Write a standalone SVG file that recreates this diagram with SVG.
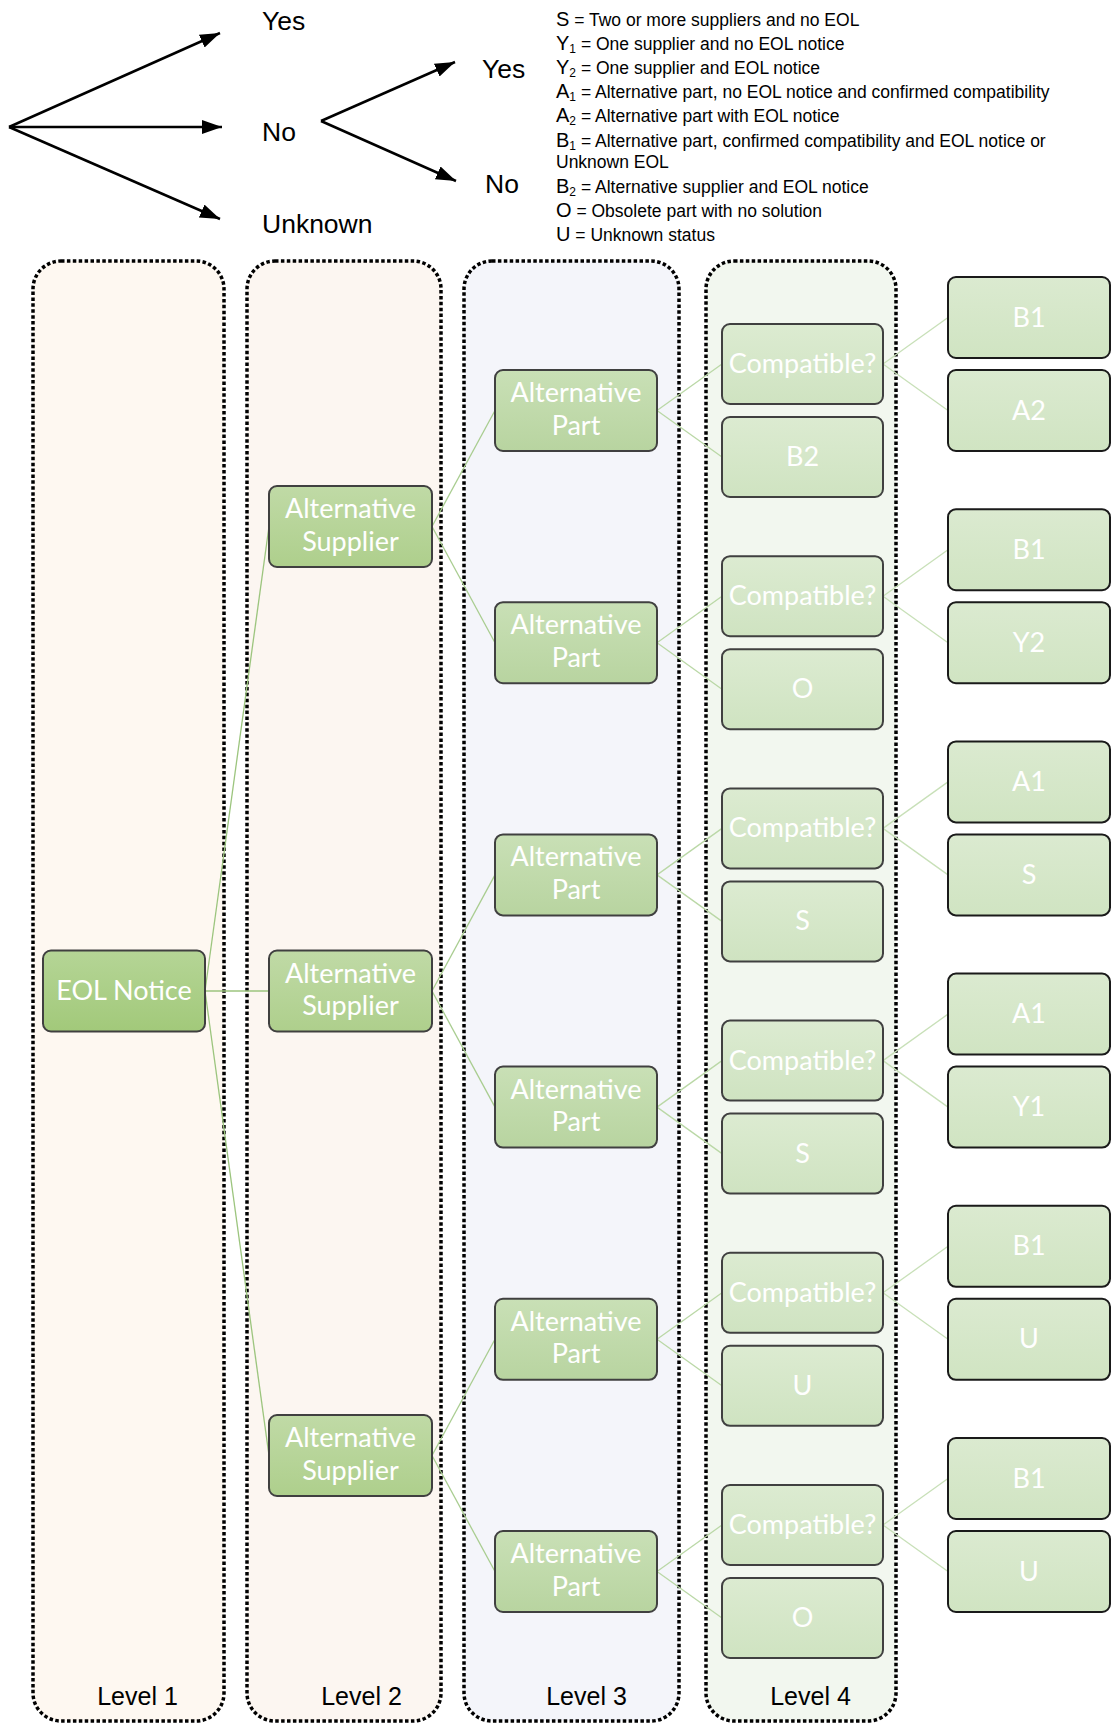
<svg xmlns="http://www.w3.org/2000/svg" width="1112" height="1724" viewBox="0 0 1112 1724">
  <defs>
    <linearGradient id="gEol" x1="0" y1="0" x2="0" y2="1">
      <stop offset="0" stop-color="#b5d596"/>
      <stop offset="1" stop-color="#a2c97a"/>
    </linearGradient>
    <linearGradient id="gSup" x1="0" y1="0" x2="0" y2="1">
      <stop offset="0" stop-color="#c0daa6"/>
      <stop offset="1" stop-color="#aecf8c"/>
    </linearGradient>
    <linearGradient id="gPart" x1="0" y1="0" x2="0" y2="1">
      <stop offset="0" stop-color="#c9e0b6"/>
      <stop offset="1" stop-color="#b8d4a0"/>
    </linearGradient>
    <linearGradient id="gL4" x1="0" y1="0" x2="0" y2="1">
      <stop offset="0" stop-color="#dcebd1"/>
      <stop offset="1" stop-color="#cfe3c1"/>
    </linearGradient>
    <linearGradient id="gL5" x1="0" y1="0" x2="0" y2="1">
      <stop offset="0" stop-color="#dbead0"/>
      <stop offset="1" stop-color="#d0e4c2"/>
    </linearGradient>
    <marker id="arrow" markerUnits="userSpaceOnUse" markerWidth="22" markerHeight="16" refX="20" refY="7" orient="auto">
      <path d="M0,0 L20,7 L0,14 z" fill="#000"/>
    </marker>
  </defs>
  <style>
    .lane { stroke: #000; stroke-width: 3.5; stroke-dasharray: 3.5 2.4; }
    .lane-label { font-family: "Liberation Sans", Arial, sans-serif; font-size: 25px; fill: #000; text-anchor: middle; }
    .fork { stroke: #000; stroke-width: 2.5; fill: none; marker-end: url(#arrow); }
    .fork-label { font-family: "Liberation Sans", Arial, sans-serif; font-size: 26.5px; fill: #000; }
    .key { font-family: "Liberation Sans", Arial, sans-serif; font-size: 17.5px; fill: #000; }
    .key .big { font-size: 20px; }
    .key .sub { font-size: 12px; }
    .node rect { stroke: #404040; stroke-width: 2; }
    .node.leaf rect { stroke: #1a1a1a; }
    .node text { font-family: Lato, "Noto Sans", sans-serif; font-size: 27px; fill: #ffffff; text-anchor: middle; }
    .eol rect { fill: url(#gEol); }
    .sup rect { fill: url(#gSup); }
    .part rect { fill: url(#gPart); }
    .l4 rect { fill: url(#gL4); }
    .leaf rect { fill: url(#gL5); }
    .links line { stroke-width: 1.3; fill: none; }
    .k1 { stroke: #9cc57e; }
    .k2 { stroke: #a9cd90; }
    .k3 { stroke: #bad8a6; }
    .k4 { stroke: #c8e0b8; }
  </style>

  <!-- decision fork -->
  <g id="fork">
    <line class="fork" x1="9" y1="127" x2="220" y2="33"/>
    <line class="fork" x1="9" y1="127" x2="222" y2="127"/>
    <line class="fork" x1="9" y1="127" x2="220" y2="219"/>
    <line class="fork" x1="321" y1="121" x2="455" y2="62"/>
    <line class="fork" x1="321" y1="121" x2="456" y2="181"/>
    <text class="fork-label" x="262" y="30">Yes</text>
    <text class="fork-label" x="262" y="141">No</text>
    <text class="fork-label" x="262" y="233">Unknown</text>
    <text class="fork-label" x="482" y="78">Yes</text>
    <text class="fork-label" x="485" y="193">No</text>
  </g>

  <!-- key -->
  <g id="key" class="key">
    <text x="556" y="26"><tspan class="big">S</tspan> = Two or more suppliers and no EOL</text>
    <text x="556" y="50"><tspan class="big">Y</tspan><tspan class="sub" dy="3">1</tspan><tspan dy="-3"> = One supplier and no EOL notice</tspan></text>
    <text x="556" y="74"><tspan class="big">Y</tspan><tspan class="sub" dy="3">2</tspan><tspan dy="-3"> = One supplier and EOL notice</tspan></text>
    <text x="556" y="98"><tspan class="big">A</tspan><tspan class="sub" dy="3">1</tspan><tspan dy="-3"> = Alternative part, no EOL notice and confirmed compatibility</tspan></text>
    <text x="556" y="122"><tspan class="big">A</tspan><tspan class="sub" dy="3">2</tspan><tspan dy="-3"> = Alternative part with EOL notice</tspan></text>
    <text x="556" y="146.5"><tspan class="big">B</tspan><tspan class="sub" dy="3">1</tspan><tspan dy="-3"> = Alternative part, confirmed compatibility and EOL notice or</tspan></text>
    <text x="556" y="168">Unknown EOL</text>
    <text x="556" y="192.5"><tspan class="big">B</tspan><tspan class="sub" dy="3">2</tspan><tspan dy="-3"> = Alternative supplier and EOL notice</tspan></text>
    <text x="556" y="216.5"><tspan class="big">O</tspan> = Obsolete part with no solution</text>
    <text x="556" y="240.5"><tspan class="big">U</tspan> = Unknown status</text>
  </g>

  <!-- level lanes -->
  <g id="lanes">
    <rect class="lane" x="33" y="261" width="191" height="1460" rx="28" fill="#fef8f1"/>
    <rect class="lane" x="247" y="261" width="194" height="1460" rx="28" fill="#fcf6f1"/>
    <rect class="lane" x="464" y="261" width="215" height="1460" rx="28" fill="#f4f5fa"/>
    <rect class="lane" x="706" y="261" width="190" height="1460" rx="28" fill="#f2f7ef"/>
    <text class="lane-label" x="137.5" y="1705">Level 1</text>
    <text class="lane-label" x="361.5" y="1705">Level 2</text>
    <text class="lane-label" x="586.5" y="1705">Level 3</text>
    <text class="lane-label" x="810.5" y="1705">Level 4</text>
  </g>

  <!-- connectors -->
  <g id="links" class="links">
    <line class="k1" x1="205" y1="991" x2="269" y2="526.5"/>
    <line class="k1" x1="205" y1="991" x2="269" y2="991"/>
    <line class="k1" x1="205" y1="991" x2="269" y2="1455.5"/>

    <line class="k2" x1="432" y1="526.5" x2="495" y2="410.5"/>
    <line class="k2" x1="432" y1="526.5" x2="495" y2="642.7"/>
    <line class="k2" x1="432" y1="991" x2="495" y2="874.9"/>
    <line class="k2" x1="432" y1="991" x2="495" y2="1107.1"/>
    <line class="k2" x1="432" y1="1455.5" x2="495" y2="1339.3"/>
    <line class="k2" x1="432" y1="1455.5" x2="495" y2="1571.5"/>

    <line class="k3" x1="657" y1="410.5" x2="722" y2="364"/>
    <line class="k3" x1="657" y1="410.5" x2="722" y2="457"/>
    <line class="k3" x1="657" y1="642.7" x2="722" y2="596.2"/>
    <line class="k3" x1="657" y1="642.7" x2="722" y2="689.2"/>
    <line class="k3" x1="657" y1="874.9" x2="722" y2="828.4"/>
    <line class="k3" x1="657" y1="874.9" x2="722" y2="921.4"/>
    <line class="k3" x1="657" y1="1107.1" x2="722" y2="1060.6"/>
    <line class="k3" x1="657" y1="1107.1" x2="722" y2="1153.6"/>
    <line class="k3" x1="657" y1="1339.3" x2="722" y2="1292.8"/>
    <line class="k3" x1="657" y1="1339.3" x2="722" y2="1385.8"/>
    <line class="k3" x1="657" y1="1571.5" x2="722" y2="1525"/>
    <line class="k3" x1="657" y1="1571.5" x2="722" y2="1618"/>

    <line class="k4" x1="883" y1="364" x2="948" y2="317.5"/>
    <line class="k4" x1="883" y1="364" x2="948" y2="410.5"/>
    <line class="k4" x1="883" y1="596.2" x2="948" y2="549.7"/>
    <line class="k4" x1="883" y1="596.2" x2="948" y2="642.7"/>
    <line class="k4" x1="883" y1="828.4" x2="948" y2="781.9"/>
    <line class="k4" x1="883" y1="828.4" x2="948" y2="874.9"/>
    <line class="k4" x1="883" y1="1060.6" x2="948" y2="1014.1"/>
    <line class="k4" x1="883" y1="1060.6" x2="948" y2="1107.1"/>
    <line class="k4" x1="883" y1="1292.8" x2="948" y2="1246.3"/>
    <line class="k4" x1="883" y1="1292.8" x2="948" y2="1339.3"/>
    <line class="k4" x1="883" y1="1525" x2="948" y2="1478.5"/>
    <line class="k4" x1="883" y1="1525" x2="948" y2="1571.5"/>
  </g>

  <!-- level 1 -->
  <g id="eol-notice" class="node eol">
    <rect x="43" y="950.5" width="162" height="81" rx="8"/>
    <text x="124" y="1000">EOL Notice</text>
  </g>

  <!-- level 2 -->
  <g id="supplier-1" class="node sup">
    <rect x="269" y="486" width="163" height="81" rx="8"/>
    <text x="350.5" y="518">Alternative</text>
    <text x="350.5" y="550.5">Supplier</text>
  </g>
  <g id="supplier-2" class="node sup">
    <rect x="269" y="950.5" width="163" height="81" rx="8"/>
    <text x="350.5" y="982.5">Alternative</text>
    <text x="350.5" y="1015">Supplier</text>
  </g>
  <g id="supplier-3" class="node sup">
    <rect x="269" y="1415" width="163" height="81" rx="8"/>
    <text x="350.5" y="1447">Alternative</text>
    <text x="350.5" y="1479.5">Supplier</text>
  </g>

  <!-- level 3 -->
  <g id="part-1" class="node part">
    <rect x="495" y="370" width="162" height="81" rx="8"/>
    <text x="576" y="402">Alternative</text>
    <text x="576" y="434.5">Part</text>
  </g>
  <g id="part-2" class="node part">
    <rect x="495" y="602.2" width="162" height="81" rx="8"/>
    <text x="576" y="634.2">Alternative</text>
    <text x="576" y="666.7">Part</text>
  </g>
  <g id="part-3" class="node part">
    <rect x="495" y="834.4" width="162" height="81" rx="8"/>
    <text x="576" y="866.4">Alternative</text>
    <text x="576" y="898.9">Part</text>
  </g>
  <g id="part-4" class="node part">
    <rect x="495" y="1066.6" width="162" height="81" rx="8"/>
    <text x="576" y="1098.6">Alternative</text>
    <text x="576" y="1131.1">Part</text>
  </g>
  <g id="part-5" class="node part">
    <rect x="495" y="1298.8" width="162" height="81" rx="8"/>
    <text x="576" y="1330.8">Alternative</text>
    <text x="576" y="1363.3">Part</text>
  </g>
  <g id="part-6" class="node part">
    <rect x="495" y="1531" width="162" height="81" rx="8"/>
    <text x="576" y="1563">Alternative</text>
    <text x="576" y="1595.5">Part</text>
  </g>

  <!-- level 4 -->
  <g id="compat-1" class="node l4"><rect x="722" y="324" width="161" height="80" rx="8"/><text x="802.5" y="373">Compatible?</text></g>
  <g id="result-1" class="node l4"><rect x="722" y="417" width="161" height="80" rx="8"/><text x="802.5" y="466">B2</text></g>
  <g id="compat-2" class="node l4"><rect x="722" y="556.2" width="161" height="80" rx="8"/><text x="802.5" y="605.2">Compatible?</text></g>
  <g id="result-2" class="node l4"><rect x="722" y="649.2" width="161" height="80" rx="8"/><text x="802.5" y="698.2">O</text></g>
  <g id="compat-3" class="node l4"><rect x="722" y="788.4" width="161" height="80" rx="8"/><text x="802.5" y="837.4">Compatible?</text></g>
  <g id="result-3" class="node l4"><rect x="722" y="881.4" width="161" height="80" rx="8"/><text x="802.5" y="930.4">S</text></g>
  <g id="compat-4" class="node l4"><rect x="722" y="1020.6" width="161" height="80" rx="8"/><text x="802.5" y="1069.6">Compatible?</text></g>
  <g id="result-4" class="node l4"><rect x="722" y="1113.6" width="161" height="80" rx="8"/><text x="802.5" y="1162.6">S</text></g>
  <g id="compat-5" class="node l4"><rect x="722" y="1252.8" width="161" height="80" rx="8"/><text x="802.5" y="1301.8">Compatible?</text></g>
  <g id="result-5" class="node l4"><rect x="722" y="1345.8" width="161" height="80" rx="8"/><text x="802.5" y="1394.8">U</text></g>
  <g id="compat-6" class="node l4"><rect x="722" y="1485" width="161" height="80" rx="8"/><text x="802.5" y="1534">Compatible?</text></g>
  <g id="result-6" class="node l4"><rect x="722" y="1578" width="161" height="80" rx="8"/><text x="802.5" y="1627">O</text></g>

  <!-- outcomes -->
  <g id="out-1a" class="node leaf"><rect x="948" y="277" width="162" height="81" rx="8"/><text x="1029" y="326.5">B1</text></g>
  <g id="out-1b" class="node leaf"><rect x="948" y="370" width="162" height="81" rx="8"/><text x="1029" y="419.5">A2</text></g>
  <g id="out-2a" class="node leaf"><rect x="948" y="509.2" width="162" height="81" rx="8"/><text x="1029" y="558.7">B1</text></g>
  <g id="out-2b" class="node leaf"><rect x="948" y="602.2" width="162" height="81" rx="8"/><text x="1029" y="651.7">Y2</text></g>
  <g id="out-3a" class="node leaf"><rect x="948" y="741.4" width="162" height="81" rx="8"/><text x="1029" y="790.9">A1</text></g>
  <g id="out-3b" class="node leaf"><rect x="948" y="834.4" width="162" height="81" rx="8"/><text x="1029" y="883.9">S</text></g>
  <g id="out-4a" class="node leaf"><rect x="948" y="973.6" width="162" height="81" rx="8"/><text x="1029" y="1023.1">A1</text></g>
  <g id="out-4b" class="node leaf"><rect x="948" y="1066.6" width="162" height="81" rx="8"/><text x="1029" y="1116.1">Y1</text></g>
  <g id="out-5a" class="node leaf"><rect x="948" y="1205.8" width="162" height="81" rx="8"/><text x="1029" y="1255.3">B1</text></g>
  <g id="out-5b" class="node leaf"><rect x="948" y="1298.8" width="162" height="81" rx="8"/><text x="1029" y="1348.3">U</text></g>
  <g id="out-6a" class="node leaf"><rect x="948" y="1438" width="162" height="81" rx="8"/><text x="1029" y="1487.5">B1</text></g>
  <g id="out-6b" class="node leaf"><rect x="948" y="1531" width="162" height="81" rx="8"/><text x="1029" y="1580.5">U</text></g>
</svg>
